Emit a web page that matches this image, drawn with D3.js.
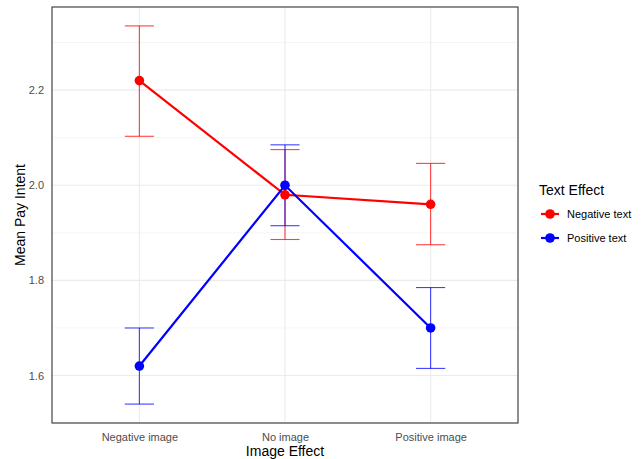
<!DOCTYPE html>
<html><head><meta charset="utf-8">
<script src="https://cdn.jsdelivr.net/npm/d3@7"></script>
<style>body{margin:0;background:#fff;}svg{display:block;font-family:Arial,"Liberation Sans",sans-serif;}</style>
</head><body>
<svg id="chart" width="643" height="459"></svg>
<script>
const categories = ["Negative image", "No image", "Positive image"];
const seriesNames = ["Negative text", "Positive text"];
const negMean = [2.22, 1.98, 1.96];
const negLow  = [2.103, 1.886, 1.875];
const negHigh = [2.335, 2.075, 2.046];
const posMean = [1.62, 2.00, 1.70];
const posLow  = [1.54, 1.915, 1.615];
const posHigh = [1.70, 2.085, 1.785];
const yTicks = [1.6, 1.8, 2.0, 2.2];
const yMinor = [1.5, 1.7, 1.9, 2.1, 2.3];
const colors = ["#ff0000", "#0000ff"];

const series = [
  {name: seriesNames[0], color: colors[0], mean: negMean, lo: negLow, hi: negHigh},
  {name: seriesNames[1], color: colors[1], mean: posMean, lo: posLow, hi: posHigh}
];

const svg = d3.select("#chart");
const P = {l: 52, r: 518, t: 7, b: 423};

const x = d3.scalePoint().domain(categories).range([P.l, P.r]).padding(0.6);
const allVals = negLow.concat(negHigh, posLow, posHigh);
const ext = d3.extent(allVals);
const pad = (ext[1] - ext[0]) * 0.05;
const y = d3.scaleLinear().domain([ext[0] - pad, ext[1] + pad]).range([P.b, P.t]);

const g = svg.append("g");
// grid
g.selectAll(".ymin").data(yMinor).join("line")
  .attr("x1", P.l).attr("x2", P.r).attr("y1", d => y(d)).attr("y2", d => y(d))
  .attr("stroke", "#f2f2f2").attr("stroke-width", 0.8);
g.selectAll(".ymaj").data(yTicks).join("line")
  .attr("x1", P.l).attr("x2", P.r).attr("y1", d => y(d)).attr("y2", d => y(d))
  .attr("stroke", "#ebebeb").attr("stroke-width", 1.1);
g.selectAll(".xmaj").data(categories).join("line")
  .attr("x1", d => x(d)).attr("x2", d => x(d)).attr("y1", P.t).attr("y2", P.b)
  .attr("stroke", "#ebebeb").attr("stroke-width", 1.1);

// axes labels via d3 axes
const yAxis = svg.append("g").attr("transform", `translate(${P.l},0)`)
  .call(d3.axisLeft(y).tickValues(yTicks).tickFormat(d3.format(".1f")).tickSize(0).tickPadding(8));
yAxis.select(".domain").remove();
yAxis.selectAll("text").attr("fill", "#4d4d4d").attr("font-size", "11px");

const xAxis = svg.append("g").attr("transform", `translate(0,${P.b})`)
  .call(d3.axisBottom(x).tickSize(0).tickPadding(10));
xAxis.select(".domain").remove();
xAxis.selectAll("text").attr("fill", "#4d4d4d").attr("font-size", "11px");

// error bars
const capW = (x.step()) * 0.1;
series.forEach(s => {
  const eg = svg.append("g").attr("stroke", s.color).attr("stroke-opacity", 0.75).attr("stroke-width", 1.1);
  categories.forEach((c, i) => {
    const cx = x(c);
    eg.append("line").attr("x1", cx).attr("x2", cx).attr("y1", y(s.lo[i])).attr("y2", y(s.hi[i]));
    eg.append("line").attr("x1", cx - capW).attr("x2", cx + capW).attr("y1", y(s.lo[i])).attr("y2", y(s.lo[i]));
    eg.append("line").attr("x1", cx - capW).attr("x2", cx + capW).attr("y1", y(s.hi[i])).attr("y2", y(s.hi[i]));
  });
});
// lines and points
series.forEach(s => {
  const line = d3.line().x((d, i) => x(categories[i])).y(d => y(d));
  svg.append("path").datum(s.mean).attr("d", line).attr("fill", "none")
    .attr("stroke", s.color).attr("stroke-width", 2.2);
  svg.append("g").selectAll("circle").data(s.mean).join("circle")
    .attr("cx", (d, i) => x(categories[i])).attr("cy", d => y(d)).attr("r", 4.8)
    .attr("fill", s.color);
});

// border
svg.append("rect").attr("x", P.l).attr("y", P.t).attr("width", P.r - P.l).attr("height", P.b - P.t)
  .attr("fill", "none").attr("stroke", "#333333").attr("stroke-width", 1.1);

// titles
svg.append("text").attr("x", (P.l + P.r) / 2).attr("y", 456).attr("text-anchor", "middle")
  .attr("font-size", "14px").attr("fill", "#000").text("Image Effect");
svg.append("text").attr("transform", `translate(25,${(P.t + P.b) / 2}) rotate(-90)`)
  .attr("text-anchor", "middle").attr("font-size", "14px").attr("fill", "#000").text("Mean Pay Intent");

// legend
const lg = svg.append("g").attr("transform", "translate(539,0)");
lg.append("text").attr("x", 0).attr("y", 195).attr("font-size", "14px").attr("fill", "#000").text("Text Effect");
series.forEach((s, i) => {
  const yy = 214 + i * 24;
  lg.append("line").attr("x1", 2).attr("x2", 20).attr("y1", yy).attr("y2", yy)
    .attr("stroke", s.color).attr("stroke-width", 2.2);
  lg.append("circle").attr("cx", 11).attr("cy", yy).attr("r", 4.8).attr("fill", s.color);
  lg.append("text").attr("x", 28).attr("y", yy + 4).attr("font-size", "11px").attr("fill", "#000").text(s.name);
});
</script>
</body></html>
